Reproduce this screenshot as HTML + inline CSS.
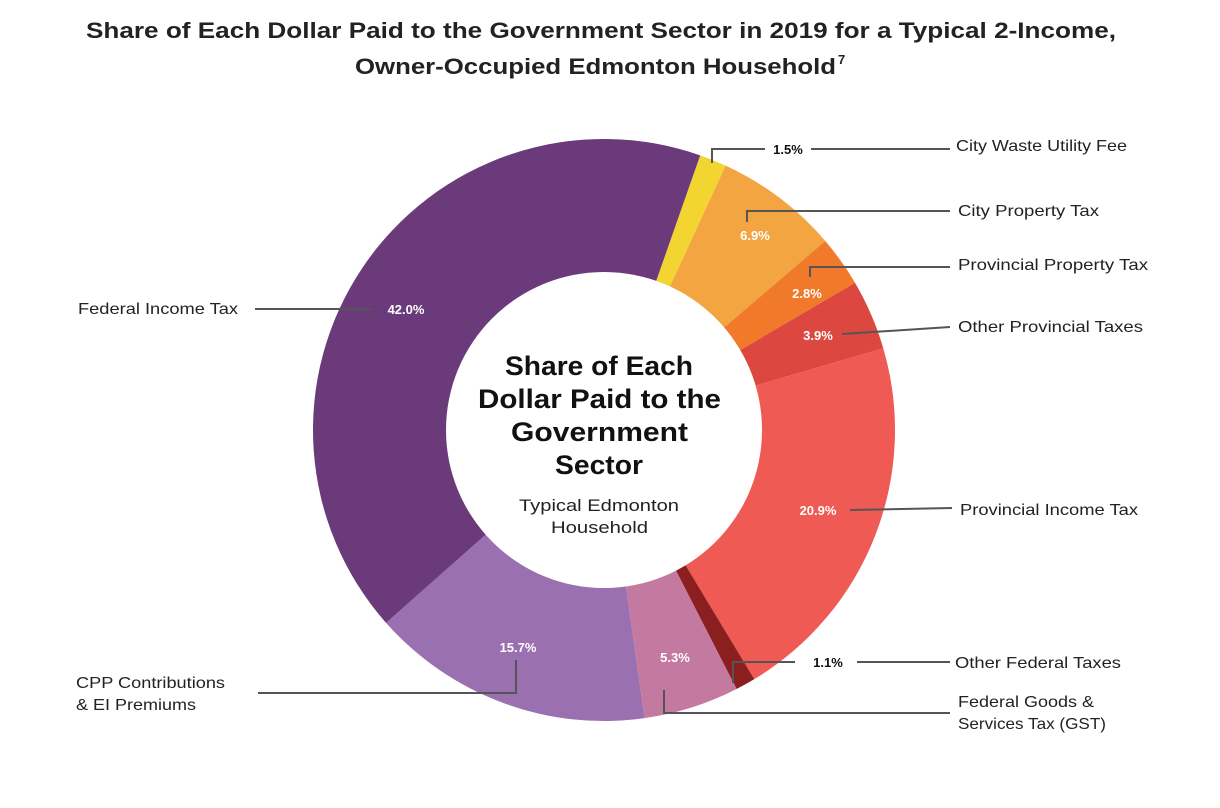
<!DOCTYPE html>
<html><head><meta charset="utf-8"><style>
html,body{margin:0;padding:0;background:#fff;width:1220px;height:808px;overflow:hidden}
svg text{font-family:"Liberation Sans",sans-serif}
</style></head><body>
<svg id="s" width="1220" height="808" viewBox="0 0 1220 808" xmlns="http://www.w3.org/2000/svg">
<text x="86" y="38" font-size="22" font-weight="bold" fill="#222" textLength="1030" lengthAdjust="spacingAndGlyphs">Share of Each Dollar Paid to the Government Sector in 2019 for a Typical 2-Income,</text>
<text x="355" y="74" font-size="22" font-weight="bold" fill="#222" textLength="481" lengthAdjust="spacingAndGlyphs">Owner-Occupied Edmonton Household</text>
<text x="838" y="64" font-size="13" font-weight="bold" fill="#222">7</text>
<g id="slices"></g>
<circle cx="604" cy="430" r="158" fill="#fff"/>
<g font-weight="bold" font-size="27" fill="#111" lengthAdjust="spacingAndGlyphs">
<text x="505" y="375" textLength="188" lengthAdjust="spacingAndGlyphs">Share of Each</text>
<text x="478" y="408" textLength="243" lengthAdjust="spacingAndGlyphs">Dollar Paid to the</text>
<text x="511" y="441" textLength="177" lengthAdjust="spacingAndGlyphs">Government</text>
<text x="555" y="474" textLength="88" lengthAdjust="spacingAndGlyphs">Sector</text>
</g>
<g font-size="17" fill="#222">
<text x="519" y="511" textLength="160" lengthAdjust="spacingAndGlyphs">Typical Edmonton</text>
<text x="551" y="533" textLength="97" lengthAdjust="spacingAndGlyphs">Household</text>
</g>
<g stroke="#555" stroke-width="2" fill="none">
<polyline points="712,163 712,149 765,149"/><line x1="811" y1="149" x2="950" y2="149"/>
<polyline points="747,222 747,211 950,211"/>
<polyline points="810,277 810,267 950,267"/>
<line x1="842" y1="334" x2="950" y2="327"/>
<line x1="850" y1="510" x2="952" y2="508"/>
<polyline points="733,683 733,662 795,662"/><line x1="857" y1="662" x2="950" y2="662"/>
<polyline points="664,690 664,713 950,713"/>
<polyline points="516,660 516,693 258,693"/>
<line x1="255" y1="309" x2="372" y2="309"/>
</g>
<g font-size="13" font-weight="bold" fill="#fff" text-anchor="middle">
<text x="406" y="314">42.0%</text>
<text x="755" y="240">6.9%</text>
<text x="807" y="298">2.8%</text>
<text x="818" y="340">3.9%</text>
<text x="818" y="515">20.9%</text>
<text x="518" y="652">15.7%</text>
<text x="675" y="662">5.3%</text>
</g>
<g font-size="13" font-weight="bold" fill="#111" text-anchor="middle">
<text x="788" y="154">1.5%</text>
<text x="828" y="667">1.1%</text>
</g>
<g font-size="16" fill="#222">
<text x="956" y="151" textLength="171" lengthAdjust="spacingAndGlyphs">City Waste Utility Fee</text>
<text x="958" y="216" textLength="141" lengthAdjust="spacingAndGlyphs">City Property Tax</text>
<text x="958" y="270" textLength="190" lengthAdjust="spacingAndGlyphs">Provincial Property Tax</text>
<text x="958" y="332" textLength="185" lengthAdjust="spacingAndGlyphs">Other Provincial Taxes</text>
<text x="960" y="515" textLength="178" lengthAdjust="spacingAndGlyphs">Provincial Income Tax</text>
<text x="955" y="668" textLength="166" lengthAdjust="spacingAndGlyphs">Other Federal Taxes</text>
<text x="958" y="707" textLength="136" lengthAdjust="spacingAndGlyphs">Federal Goods &amp;</text>
<text x="958" y="729" textLength="148" lengthAdjust="spacingAndGlyphs">Services Tax (GST)</text>
<text x="78" y="314" textLength="160" lengthAdjust="spacingAndGlyphs">Federal Income Tax</text>
<text x="76" y="688" textLength="149" lengthAdjust="spacingAndGlyphs">CPP Contributions</text>
<text x="76" y="710" textLength="120" lengthAdjust="spacingAndGlyphs">&amp; EI Premiums</text>
</g>
</svg>
<script>
var cx=604,cy=430,r=291;
var d=[[19.3,24.7,"#f2d531"],[24.7,49.5,"#f2a541"],[49.5,59.6,"#f07a2a"],[59.6,73.7,"#dc4840"],[73.7,148.9,"#f05a55"],[148.9,152.9,"#8b1f1f"],[152.9,172.0,"#c47aa0"],[172.0,228.5,"#9a70b0"],[228.5,379.3,"#6b3a7a"]];
var g=document.getElementById("slices"),h="";
function p(a){a=a*Math.PI/180;return (cx+r*Math.sin(a)).toFixed(2)+","+(cy-r*Math.cos(a)).toFixed(2);}
d.forEach(function(s){var big=(s[1]-s[0])>180?1:0;h+='<path d="M'+cx+','+cy+' L'+p(s[0])+' A'+r+','+r+' 0 '+big+' 1 '+p(s[1])+' Z" fill="'+s[2]+'"/>';});
g.innerHTML=h;
</script>
</body></html>
